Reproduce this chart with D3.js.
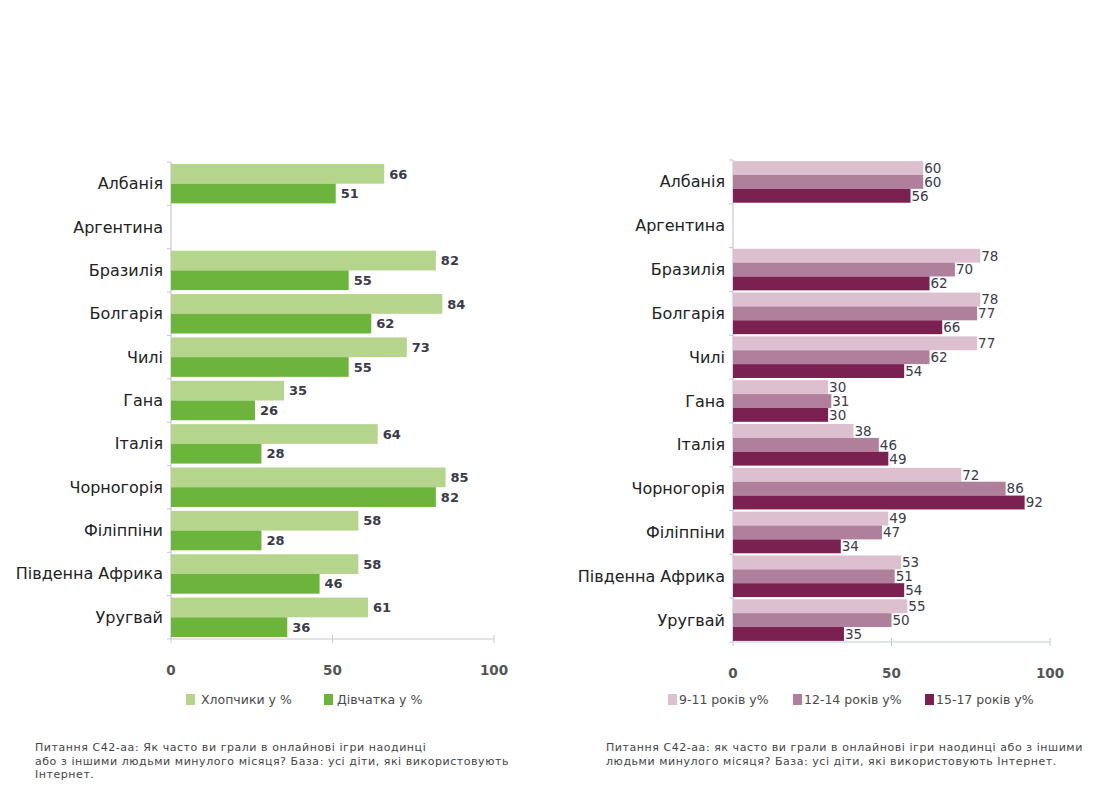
<!DOCTYPE html>
<html>
<head>
<meta charset="utf-8">
<script src="https://cdn.jsdelivr.net/npm/d3@7"></script>
<style>
  html, body { margin: 0; padding: 0; background: #ffffff; }
  svg { display: block; }
  text { font-family: "DejaVu Sans", Verdana, sans-serif; }
</style>
</head>
<body>
<svg id="chart" width="1108" height="800"></svg>
<script>
// Countries (top to bottom)
const countries = ["Албанія", "Аргентина", "Бразилія", "Болгарія", "Чилі", "Гана",
  "Італія", "Чорногорія", "Філіппіни", "Південна Африка", "Уругвай"];

// Left panel: by gender, % (Argentina: no data)
const boys  = [66, null, 82, 84, 73, 35, 64, 85, 58, 58, 61];
const girls = [51, null, 55, 62, 55, 26, 28, 82, 28, 46, 36];

// Right panel: by age group, %
const age9to11  = [60, null, 78, 78, 77, 30, 38, 72, 49, 53, 55];
const age12to14 = [60, null, 70, 77, 62, 31, 46, 86, 47, 51, 50];
const age15to17 = [56, null, 62, 66, 54, 30, 49, 92, 34, 54, 35];

const xTicks = [0, 50, 100];

const genderNames = ["Хлопчики у %", "Дівчатка у %"];
const ageNames = ["9-11 років у%", "12-14 років у%", "15-17 років у%"];

const noteLeft = [
  "Питання С42-аа: Як часто ви грали в онлайнові ігри наодинці",
  "або з іншими людьми минулого місяця? База: усі діти, які використовують",
  "Інтернет."
];
const noteRight = [
  "Питання С42-аа: як часто ви грали в онлайнові ігри наодинці або з іншими",
  "людьми минулого місяця? База: усі діти, які використовують Інтернет."
];

const svg = d3.select("#chart");

function panel(opts) {
  const { x0, x1, y0, y1, series, colors, names, labelDx, fontSize, labelWeight, inner,
          legend, legendY, note, noteX } = opts;
  const g = svg.append("g");

  const x = d3.scaleLinear().domain([0, 100]).range([x0, x1]);
  const y = d3.scaleBand().domain(countries).range([y0, y1]).paddingInner(0).paddingOuter(0);
  const sub = d3.scaleBand().domain(d3.range(series.length))
    .range([0, y.bandwidth()]).paddingOuter(inner).paddingInner(0);

  // value axis
  const axisColor = "#c3c9d6";
  g.append("line").attr("x1", x0).attr("x2", x1).attr("y1", y1).attr("y2", y1)
    .attr("stroke", axisColor).attr("stroke-width", 1.2);
  g.append("line").attr("x1", x0).attr("x2", x0).attr("y1", y0).attr("y2", y1)
    .attr("stroke", axisColor).attr("stroke-width", 1.2);
  xTicks.forEach(t => {
    g.append("line").attr("x1", x(t)).attr("x2", x(t)).attr("y1", y1 - 4).attr("y2", y1 + 4)
      .attr("stroke", axisColor);
    g.append("text").attr("x", x(t)).attr("y", y1 + 36).attr("text-anchor", "middle")
      .attr("font-size", 13.5).attr("font-weight", "bold").attr("fill", "#555").text(t);
  });
  // category boundary ticks
  const bounds = countries.map(c => y(c)).concat([y1]);
  bounds.forEach(b => {
    g.append("line").attr("x1", x0 - 4).attr("x2", x0).attr("y1", b).attr("y2", b)
      .attr("stroke", axisColor);
  });

  // category labels
  g.selectAll("text.cat").data(countries).join("text")
    .attr("class", "cat")
    .attr("x", x0 - 8)
    .attr("y", d => y(d) + y.bandwidth() / 2 + 5.5)
    .attr("text-anchor", "end")
    .attr("font-size", 16)
    .attr("fill", "#222")
    .text(d => d);

  // bars + value labels
  series.forEach((vals, si) => {
    const rows = countries.map((c, i) => ({ c, v: vals[i] })).filter(d => d.v != null);
    g.selectAll(null).data(rows).join("rect")
      .attr("x", x(0))
      .attr("y", d => y(d.c) + sub(si))
      .attr("width", d => x(d.v) - x(0))
      .attr("height", sub.bandwidth())
      .attr("fill", colors[si]);
    g.selectAll(null).data(rows).join("text")
      .attr("x", d => x(d.v) + labelDx)
      .attr("y", d => y(d.c) + sub(si) + sub.bandwidth() / 2 + fontSize * 0.36)
      .attr("font-size", fontSize)
      .attr("font-weight", labelWeight)
      .attr("fill", "#3a3a48")
      .text(d => d.v);
  });

  // legend
  names.forEach((n, i) => {
    g.append("rect").attr("x", legend.sq[i]).attr("y", legendY - 10).attr("width", 9).attr("height", 11)
      .attr("fill", colors[i]);
    g.append("text").attr("x", legend.tx[i]).attr("y", legendY).attr("font-size", 12.5)
      .attr("fill", "#4a4a4a").text(n);
  });

  // footnote
  note.forEach((line, i) => {
    g.append("text").attr("x", noteX).attr("y", 751 + i * 13.5).attr("font-size", 11)
      .attr("letter-spacing", 0.55).attr("fill", "#444").text(line);
  });
}

panel({
  x0: 171, x1: 494, y0: 162, y1: 639,
  series: [boys, girls],
  colors: ["#b5d48c", "#6cb43b"],
  names: genderNames,
  labelDx: 5, fontSize: 13, labelWeight: "bold", inner: 0.1,
  legend: { sq: [186, 324], tx: [201, 337] }, legendY: 704,
  note: noteLeft, noteX: 35
});

panel({
  x0: 733, x1: 1050, y0: 160, y1: 642,
  series: [age9to11, age12to14, age15to17],
  colors: ["#dcc0cf", "#b07f9c", "#7a2152"],
  names: ageNames,
  labelDx: 1, fontSize: 13.5, labelWeight: "normal", inner: 0.08,
  legend: { sq: [668, 793, 925], tx: [679, 804, 936] }, legendY: 704,
  note: noteRight, noteX: 606
});
</script>
</body>
</html>
